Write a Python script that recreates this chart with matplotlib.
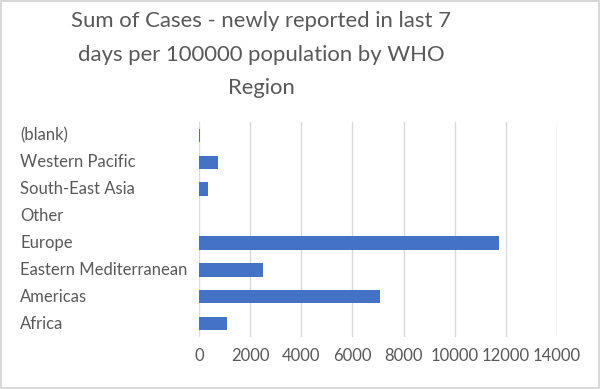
import matplotlib.pyplot as plt
from matplotlib.transforms import blended_transform_factory

regions = ["Africa", "Americas", "Eastern Mediterranean", "Europe",
           "Other", "South-East Asia", "Western Pacific", "(blank)"]
cases = [1095, 7090, 2500, 11730, 0, 340, 750, 50]
xticks = [0, 2000, 4000, 6000, 8000, 10000, 12000, 14000]
title_lines = ["Sum of Cases - newly reported in last 7",
               "days per 100000 population by WHO",
               "Region"]

text_col = "#595959"
bar_col = "#4472C4"
grid_col = "#D9D9D9"
font = "Lato"

fig = plt.figure(figsize=(6, 3.89), dpi=100)
fig.patch.set_edgecolor("#D9D9D9")
fig.patch.set_linewidth(1.5)
ax = fig.add_axes([199 / 600, 1 - 337 / 389, 358 / 600, 215 / 389])

y = list(range(len(regions)))
ax.barh(y, cases, height=0.5, color=bar_col, zorder=3)
ax.set_xlim(0, 14000)
ax.set_ylim(-0.5, len(regions) - 0.5)
ax.set_xticks(xticks)
ax.set_xticklabels([str(t) for t in xticks], fontsize=12,
                   color=text_col, family=font)
ax.tick_params(axis="x", length=0, pad=8)
ax.set_yticks([])
ax.grid(axis="x", color=grid_col, linewidth=1, zorder=0)
for s in ax.spines.values():
    s.set_visible(False)

trans = blended_transform_factory(fig.transFigure, ax.transData)
for yi, name in zip(y, regions):
    ax.text(20 / 600, yi, name, transform=trans, ha="left", va="center",
            fontsize=12, color=text_col, family=font)

baselines = [27, 61, 94]
for line, b in zip(title_lines, baselines):
    fig.text(261 / 600, 1 - b / 389, line, ha="center", va="baseline",
             fontsize=15.9, color=text_col, family=font)

fig.savefig("out.png", dpi=100, edgecolor=fig.get_edgecolor())
